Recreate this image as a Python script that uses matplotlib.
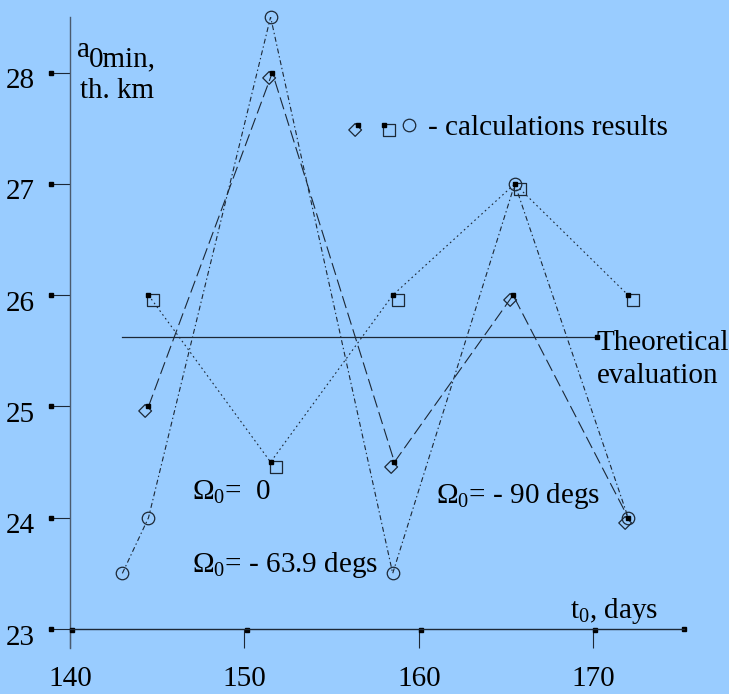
import numpy as np
import matplotlib
matplotlib.use('Agg')
import matplotlib.pyplot as plt
from matplotlib.path import Path
from matplotlib.lines import Line2D
from matplotlib.legend_handler import HandlerTuple
from matplotlib.transforms import ScaledTranslation

# minimum semi-major axis vs launch day, three node longitudes
t_diamond = [144.5, 151.6, 158.6, 165.4, 172.0]
a_diamond = [25.0, 28.0, 24.5, 26.0, 24.0]

t_square = [144.5, 151.5, 158.5, 165.5, 172.0]
a_square = [26.0, 24.5, 26.0, 27.0, 26.0]

t_circle = [143.0, 144.5, 151.5, 158.5, 165.5, 172.0]
a_circle = [23.5, 24.0, 28.5, 23.5, 27.0, 24.0]

t_theory = [143.0, 170.2]
a_theory = 25.62

xticks = [140, 150, 160, 170]
yticks = [23, 24, 25, 26, 27, 28]

plt.rcParams['font.family'] = ['Liberation Serif', 'DejaVu Serif']
plt.rcParams['mathtext.fontset'] = 'custom'
plt.rcParams['mathtext.rm'] = 'Liberation Serif'
plt.rcParams['mathtext.it'] = 'Liberation Serif:italic'
plt.rcParams['lines.scale_dashes'] = False

bg = '#99ccff'
ink = '#1c2836'
fs = 21


def shifted_marker(verts):
    # marker path given in points; returns path and the markersize that keeps it in points
    verts = np.asarray(verts, dtype=float)
    return Path(verts, closed=True), 2 * np.abs(verts).max()


# hollow diamond sitting below-left of the point, square below-right
h = 4.6
dx, dy = -2.4, -3.2
diamond_path, diamond_ms = shifted_marker(
    [(dx, dy + h), (dx + h, dy), (dx, dy - h), (dx - h, dy), (dx, dy + h)])
q = 4.3
sx, sy = 3.4, -3.4
square_path, square_ms = shifted_marker(
    [(sx - q, sy + q), (sx + q, sy + q), (sx + q, sy - q), (sx - q, sy - q), (sx - q, sy + q)])

fig = plt.figure(figsize=(7.29, 6.94), dpi=100, facecolor=bg)
ax = fig.add_axes([70 / 729, 65 / 694, 614 / 729, 612 / 694])
ax.set_facecolor(bg)
ax.set_xlim(140, 175.2)
ax.set_ylim(23, 28.5)

for s in ['top', 'right', 'left']:
    ax.spines[s].set_visible(False)
ax.spines['bottom'].set_color(ink)
ax.spines['bottom'].set_linewidth(1.0)
ax.axvline(140, ymin=-19 / 612, ymax=1, color='#4a5a6e', lw=1.0, clip_on=False)

ax.set_xticks(xticks)
ax.set_yticks(yticks)
ax.tick_params(axis='x', direction='out', length=14, width=0.8, color=ink,
               pad=13, labelsize=fs)
ax.tick_params(axis='y', direction='out', length=13.5, width=0.8, color=ink,
               pad=12, labelsize=fs)
for lab in ax.get_yticklabels():
    lab.set_transform(lab.get_transform() + ScaledTranslation(0, -4 / 72, fig.dpi_scale_trans))

# little black squares at tick ends
ax.plot(np.zeros(len(yticks)), yticks, 's', ms=3, color='k', clip_on=False,
        transform=ax.get_yaxis_transform() + ScaledTranslation(-13.5 / 72, 0, fig.dpi_scale_trans))
ax.plot(xticks, np.zeros(len(xticks)), 's', ms=3, color='k', clip_on=False,
        transform=ax.get_xaxis_transform() + ScaledTranslation(1.5 / 72, -1 / 72, fig.dpi_scale_trans))
ax.plot([1], [0], 's', ms=3, color='k', clip_on=False, transform=ax.transAxes)

# theoretical level
ax.plot(t_theory, [a_theory, a_theory], color=ink, lw=0.9)
ax.plot(t_theory[1], a_theory, 's', ms=3, color='k', clip_on=False)

# series
ax.plot(t_diamond, a_diamond, color=ink, lw=0.8, linestyle=(0, (9, 3.5)))
ax.plot(t_square, a_square, color=ink, lw=0.8, linestyle=(0, (1.2, 2.2)))
ax.plot(t_circle, a_circle, color=ink, lw=0.8, linestyle=(0, (3.6, 2, 1, 2)))

ax.plot(t_circle, a_circle, 'o', ms=9, mfc='none', mec=ink, mew=0.9, clip_on=False)
ax.plot(t_diamond, a_diamond, linestyle='none', marker=diamond_path, ms=diamond_ms,
        mfc='none', mec=ink, mew=0.9, clip_on=False)
ax.plot(t_square, a_square, linestyle='none', marker=square_path, ms=square_ms,
        mfc='none', mec=ink, mew=0.9, clip_on=False)
ax.plot(t_diamond, a_diamond, 's', ms=3, color='k', clip_on=False)
ax.plot(t_square, a_square, 's', ms=3, color='k', clip_on=False)

# key
dot = Line2D([], [], linestyle='none', marker='s', ms=3, color='k')
key_d = Line2D([], [], linestyle='none', marker=diamond_path, ms=diamond_ms,
               mfc='none', mec=ink, mew=0.9)
key_s = Line2D([], [], linestyle='none', marker=square_path, ms=square_ms,
               mfc='none', mec=ink, mew=0.9)
key_c = Line2D([], [], linestyle='none', marker='o', ms=9, mfc='none', mec=ink, mew=0.9)
key = ((key_d, dot), (key_s, dot), key_c)
ax.legend([key], ['- calculations results'], handler_map={key: HandlerTuple(ndivide=None, pad=0)},
          loc='center left', bbox_to_anchor=(345 / 729, 1 - 128 / 694),
          bbox_transform=fig.transFigure, frameon=False, fontsize=fs,
          handlelength=2.65, handletextpad=0.2, borderpad=0, borderaxespad=0)

# annotations
ax.text(140.4, 28.14, 'a', fontsize=fs)
ax.text(141.1, 28.06, '0min,', fontsize=fs)
ax.text(140.57, 27.77, 'th. km', fontsize=fs)
ax.text(170.2, 25.51, 'Theoretical', fontsize=fs)
ax.text(170.2, 25.21, 'evaluation', fontsize=fs)
ax.text(147.0, 24.16, r'$\Omega_0$=  0', fontsize=fs)
ax.text(147.0, 23.51, r'$\Omega_0$= - 63.9 degs', fontsize=fs)
ax.text(160.97, 24.13, r'$\Omega_0$= - 90 degs', fontsize=fs)
ax.text(168.65, 23.1, r't$_0$, days', fontsize=fs)

fig.savefig('out.png', dpi=100, facecolor=bg)
